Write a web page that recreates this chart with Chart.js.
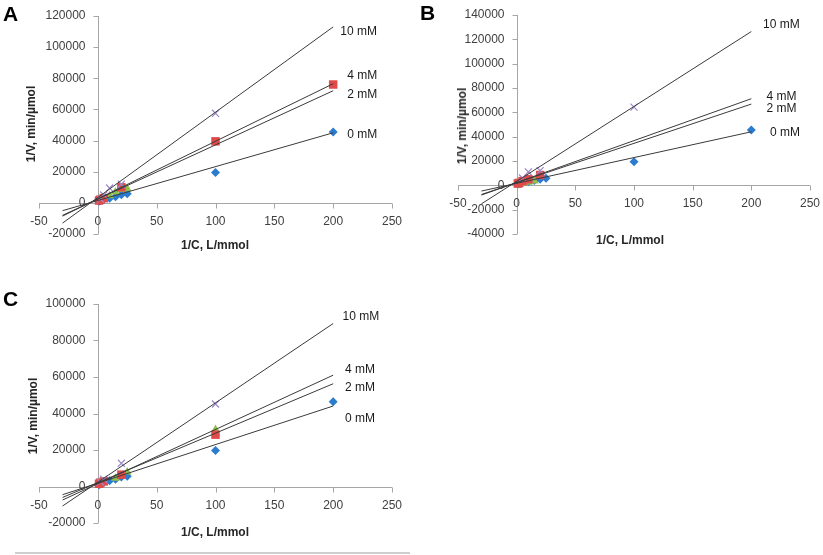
<!DOCTYPE html>
<html>
<head>
<meta charset="utf-8">
<script src="https://cdn.jsdelivr.net/npm/chart.js@4.4.0/dist/chart.umd.min.js"></script>
<style>
    body { margin: 0; background: #fff; }
    #page { position: relative; width: 823px; height: 555px; overflow: hidden; font-family: "Liberation Sans", Arial, sans-serif; }
    canvas { position: absolute; }
    .letter { position: absolute; font-size: 21px; font-weight: bold; line-height: 1; color: #000; }
    .title { position: absolute; font-size: 12px; font-weight: bold; color: #262626; white-space: nowrap; transform: translate(-50%, -50%); }
    .title.vert { transform: translate(-50%, -50%) rotate(-90deg); }
    #rule { position: absolute; left: 15px; top: 552px; width: 395px; height: 2px; background: #cfcfcf; }
</style>
</head>
<body>
<div id="page">
    <canvas id="chartA" width="411" height="275" style="left:0;top:0"></canvas>
    <canvas id="chartB" width="412" height="275" style="left:411px;top:0"></canvas>
    <canvas id="chartC" width="411" height="275" style="left:0;top:280px"></canvas>

    <div class="letter" style="left:3px;top:3px">A</div>
    <div class="letter" style="left:420px;top:2px">B</div>
    <div class="letter" style="left:3px;top:288px">C</div>

    <div class="title vert" style="left:31px;top:124px">1/V, min/µmol</div>
    <div class="title" style="left:215px;top:245px">1/C, L/mmol</div>
    <div class="title vert" style="left:462px;top:126px">1/V, min/µmol</div>
    <div class="title" style="left:630px;top:240px">1/C, L/mmol</div>
    <div class="title vert" style="left:33px;top:416px">1/V, min/µmol</div>
    <div class="title" style="left:215px;top:532px">1/C, L/mmol</div>

    <div id="rule"></div>
</div>

<script>
// tick labels
const xTicks = [-50, 0, 50, 100, 150, 200, 250];
const yTicksA = [-20000, 0, 20000, 40000, 60000, 80000, 100000, 120000];
const yTicksB = [-40000, -20000, 0, 20000, 40000, 60000, 80000, 100000, 120000, 140000];
const yTicksC = [-20000, 0, 20000, 40000, 60000, 80000, 100000];

// inhibitor concentrations (series names)
const concLabels = ["0 mM", "2 mM", "4 mM", "10 mM"];

// trend line ends (1/C)
const fitX = [-30, 200];

// panel A
const aX0 = [1, 2, 5, 10, 15, 20, 25, 100, 200];
const aY0 = [1000, 1400, 2200, 3000, 3900, 5200, 5800, 19500, 45500];
const aX2 = [1, 2, 5, 10, 15, 20, 25];
const aY2 = [1200, 1800, 2800, 4500, 7000, 8500, 9000];
const aX4 = [1, 2, 5, 20, 100, 200];
const aY4 = [1500, 2000, 3000, 10000, 39500, 76000];
const aX10 = [2, 5, 10, 20, 100];
const aY10 = [2500, 5000, 9500, 12000, 57500];
const aFit0 = [-5000, 45000];
const aFit2 = [-8000, 72000];
const aFit4 = [-8500, 76500];
const aFit10 = [-13000, 113000];
const aLabelX = [212, 212, 212, 206];
const aLabelY = [44000, 69500, 81500, 110000];

// panel B
const bX0 = [1, 2, 5, 10, 15, 20, 25, 100, 200];
const bY0 = [1000, 1400, 2200, 3000, 3900, 5000, 5800, 19300, 45500];
const bX2 = [1, 2, 5, 10, 15, 20];
const bY2 = [300, 700, 1500, 2500, 3500, 8000];
const bX4 = [1, 2, 5, 10, 20];
const bY4 = [1500, 2000, 3500, 5000, 8500];
const bX10 = [5, 10, 20, 100];
const bY10 = [6000, 11000, 12000, 64300];
const bFit0 = [-4700, 44000];
const bFit2 = [-7500, 66800];
const bFit4 = [-8000, 71200];
const bFit10 = [-15200, 126400];
const bLabelX = [216, 213, 213, 210];
const bLabelY = [43100, 62600, 72700, 131800];

// panel C
const cX0 = [1, 2, 5, 10, 15, 20, 25, 100, 200];
const cY0 = [1000, 1400, 2200, 3200, 4000, 5200, 5600, 19700, 46500];
const cX2 = [1, 2, 5, 15, 25, 100];
const cY2 = [1200, 1700, 2500, 4500, 8000, 31200];
const cX4 = [1, 2, 5, 20, 100];
const cY4 = [1500, 2000, 2800, 6500, 28400];
const cX10 = [2, 5, 20, 100];
const cY10 = [2500, 4000, 12700, 45200];
const cFit0 = [-4500, 44100];
const cFit2 = [-6000, 56300];
const cFit4 = [-7400, 61000];
const cFit10 = [-10700, 89300];
const cLabelX = [210, 210, 210, 208];
const cLabelY = [37300, 54200, 64000, 93200];

const markerStyles = [
    { pointStyle: "rectRot", radius: 4.5, color: "#2b7bcf" },
    { pointStyle: "triangle", radius: 5, color: "#8fbf4d" },
    { pointStyle: "rect", radius: 6, color: "#e04a4a" },
    { pointStyle: "crossRot", radius: 5, color: "#9c88c6" }
];

const pts = (xs, ys) => xs.map((x, i) => ({ x: x, y: ys[i] }));

// axes crossing at zero, drawn Excel style
const crossAxes = {
    id: "crossAxes",
    beforeDatasetsDraw(chart, args, opts) {
        const { ctx, chartArea: area, scales: { x, y } } = chart;
        const x0 = Math.round(x.getPixelForValue(0)) + 0.5;
        const y0 = Math.round(y.getPixelForValue(0)) + 0.5;
        ctx.save();
        ctx.strokeStyle = "#a6a6a6";
        ctx.lineWidth = 1;
        ctx.beginPath();
        ctx.moveTo(area.left, y0);
        ctx.lineTo(area.right, y0);
        opts.xTicks.forEach(v => {
            const px = Math.round(x.getPixelForValue(v)) + 0.5;
            ctx.moveTo(px, y0);
            ctx.lineTo(px, y0 + 5);
        });
        ctx.moveTo(x0, area.top);
        ctx.lineTo(x0, area.bottom);
        opts.yTicks.forEach(v => {
            const py = Math.round(y.getPixelForValue(v)) + 0.5;
            ctx.moveTo(x0 - 5, py);
            ctx.lineTo(x0, py);
        });
        ctx.stroke();

        ctx.fillStyle = "#404040";
        ctx.font = "12px 'Liberation Sans', Arial, sans-serif";
        ctx.textAlign = "center";
        ctx.textBaseline = "middle";
        opts.xTicks.forEach(v => {
            ctx.fillText(String(v), x.getPixelForValue(v), y0 + 18);
        });
        ctx.textAlign = "right";
        opts.yTicks.forEach(v => {
            ctx.fillText(String(v), x0 - 13, y.getPixelForValue(v));
        });
        ctx.restore();
    },
    afterDatasetsDraw(chart, args, opts) {
        const { ctx, scales: { x, y } } = chart;
        ctx.save();
        ctx.fillStyle = "#1a1a1a";
        ctx.font = "12px 'Liberation Sans', Arial, sans-serif";
        ctx.textAlign = "left";
        ctx.textBaseline = "middle";
        concLabels.forEach((label, i) => {
            ctx.fillText(label, x.getPixelForValue(opts.labelX[i]), y.getPixelForValue(opts.labelY[i]));
        });
        ctx.restore();
    }
};

function createPanel(id, padding, yMin, yMax, yTicks, xs, ys, fits, labelX, labelY) {
    const datasets = [];

    fits.forEach(f => {
        datasets.push({
            type: "line",
            data: pts(fitX, f),
            borderColor: "#3a3a3a",
            borderWidth: 1,
            pointRadius: 0,
            fill: false,
            order: 0
        });
    });

    xs.forEach((xv, i) => {
        const m = markerStyles[i];
        datasets.push({
            type: "scatter",
            data: pts(xv, ys[i]),
            pointStyle: m.pointStyle,
            pointRadius: m.radius,
            backgroundColor: m.color,
            borderColor: m.color,
            borderWidth: m.pointStyle === "crossRot" ? 1.2 : 0,
            order: 4 - i
        });
    });

    return new Chart(document.getElementById(id), {
        type: "scatter",
        data: { datasets: datasets },
        options: {
            responsive: false,
            animation: false,
            layout: { padding: padding },
            plugins: {
                legend: { display: false },
                tooltip: { enabled: false },
                crossAxes: { xTicks: xTicks, yTicks: yTicks, labelX: labelX, labelY: labelY }
            },
            scales: {
                x: { type: "linear", min: -50, max: 250, display: false },
                y: { type: "linear", min: yMin, max: yMax, display: false }
            }
        },
        plugins: [crossAxes]
    });
}

createPanel("chartA", { left: 39, top: 16, right: 19, bottom: 41 }, -20000, 120000, yTicksA,
    [aX0, aX2, aX4, aX10], [aY0, aY2, aY4, aY10], [aFit0, aFit2, aFit4, aFit10], aLabelX, aLabelY);

createPanel("chartB", { left: 47, top: 15, right: 13, bottom: 41 }, -40000, 140000, yTicksB,
    [bX0, bX2, bX4, bX10], [bY0, bY2, bY4, bY10], [bFit0, bFit2, bFit4, bFit10], bLabelX, bLabelY);

createPanel("chartC", { left: 39, top: 24, right: 19, bottom: 32 }, -20000, 100000, yTicksC,
    [cX0, cX2, cX4, cX10], [cY0, cY2, cY4, cY10], [cFit0, cFit2, cFit4, cFit10], cLabelX, cLabelY);
</script>
</body>
</html>
